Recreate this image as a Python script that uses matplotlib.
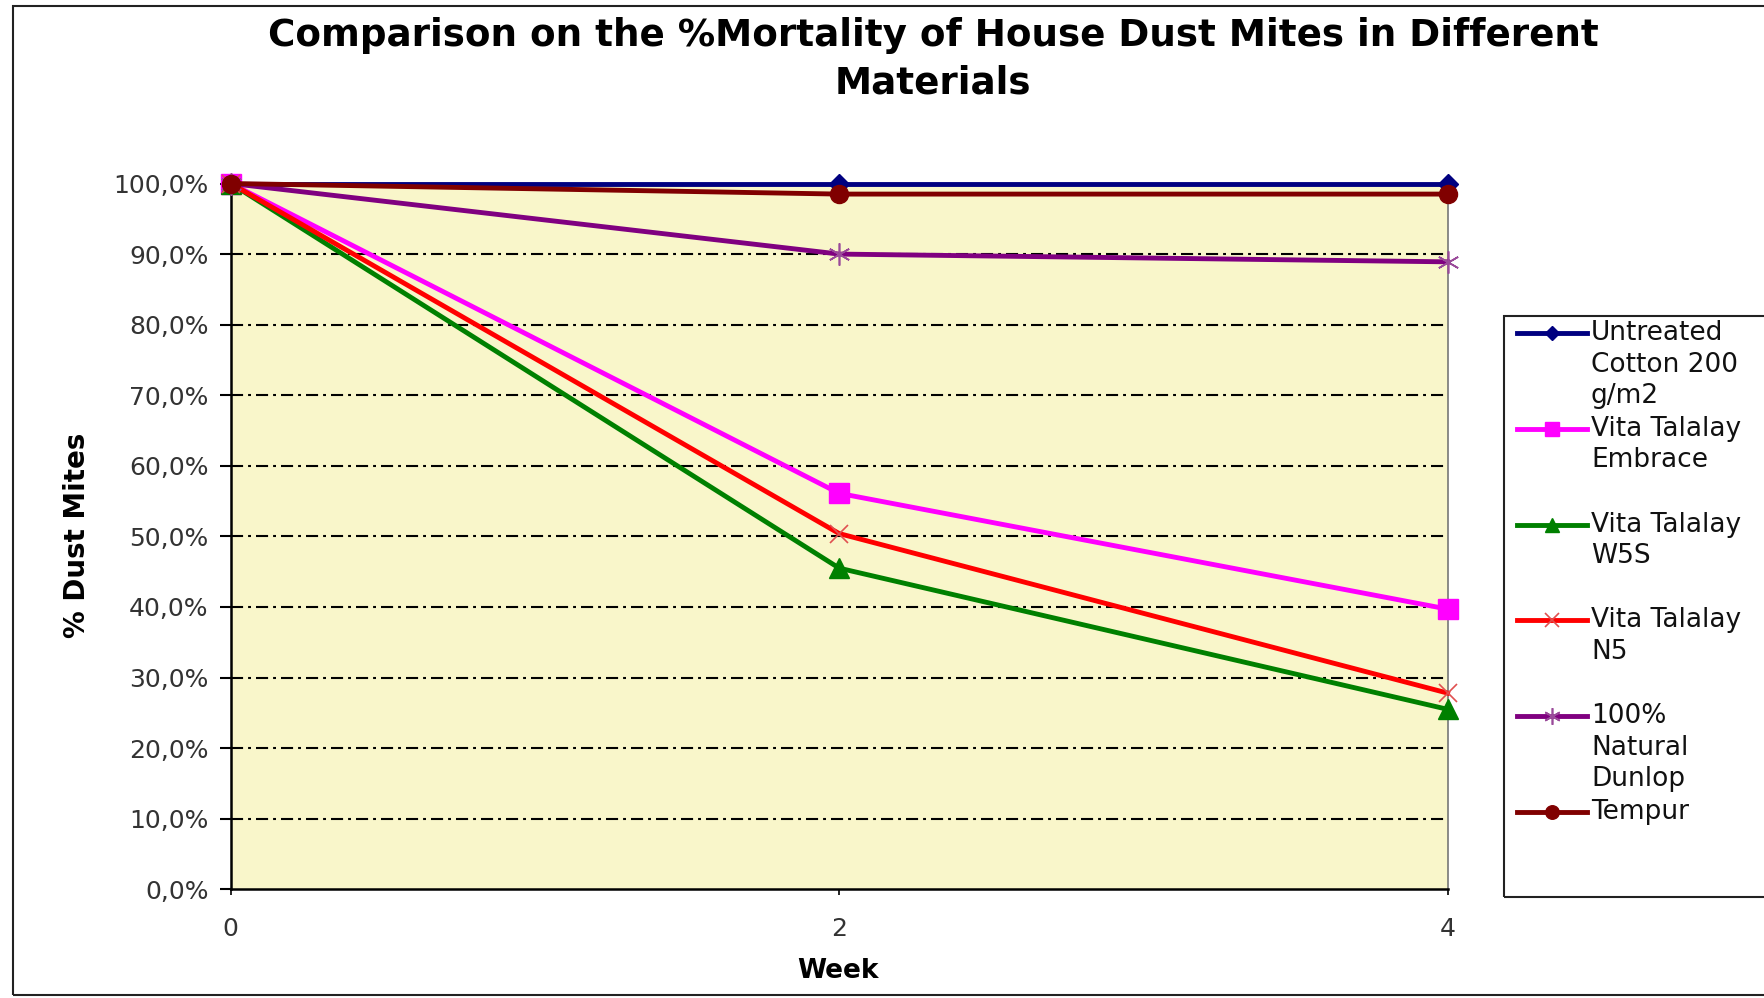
import matplotlib
matplotlib.use("Agg")
import matplotlib.pyplot as plt
from matplotlib.lines import Line2D
from matplotlib.patches import Rectangle
from matplotlib.ticker import FuncFormatter

plt.rcParams['font.family'] = ['DejaVu Sans']

weeks = [0, 2, 4]
series_names = [
    "Untreated\nCotton 200\ng/m2",
    "Vita Talalay\nEmbrace",
    "Vita Talalay\nW5S",
    "Vita Talalay\nN5",
    "100%\nNatural\nDunlop",
    "Tempur",
]
untreated = [100.0, 100.0, 100.0]
embrace = [100.0, 56.1, 39.7]
w5s = [100.0, 45.5, 25.5]
n5 = [100.0, 50.4, 27.8]
dunlop = [100.0, 90.0, 88.9]
tempur = [100.0, 98.5, 98.5]
all_values = [untreated, embrace, w5s, n5, dunlop, tempur]
y_ticks = [0, 10, 20, 30, 40, 50, 60, 70, 80, 90, 100]
x_ticks = [0, 2, 4]

styles = [
    dict(color='#000080', marker='D', ms=10, mfc='#000080', mec='#000080', mew=1),
    dict(color='#FF00FF', marker='s', ms=14, mfc='#FF00FF', mec='#FF00FF', mew=1),
    dict(color='#008000', marker='^', ms=14, mfc='#008000', mec='#008000', mew=1),
    dict(color='#FF0000', marker='x', ms=13, mfc='none', mec='#E05050', mew=1.2),
    dict(color='#800080', marker=(6, 2, 0), ms=16, mfc='none', mec='#9A4A9A', mew=1.2),
    dict(color='#800000', marker='o', ms=13, mfc='#800000', mec='#800000', mew=1),
]

W, H = 1765, 998
fig = plt.figure(figsize=(W / 100, H / 100), dpi=100)
fig.patch.set_facecolor('white')

# chart border
fig.add_artist(Rectangle((13 / W, 1 - 995 / H), (W + 10) / W, (995 - 6) / H,
                         transform=fig.transFigure, fill=False,
                         edgecolor='#222222', lw=1.5))

x0, x1 = 230.8, 1447.6
y_top, y_bot = 183.5, 889.3
ax = fig.add_axes([x0 / W, 1 - y_bot / H, (x1 - x0) / W, (y_bot - y_top) / H])
ax.set_facecolor('#F9F6CA')
ax.set_xlim(0, 4)
ax.set_ylim(0, 100)

for yv in y_ticks[1:-1]:
    ax.axhline(yv, color='black', lw=1.5, dashes=(5.8, 2.4, 1.4, 2.4), zorder=1)

for vals, st in zip(all_values, styles):
    ax.plot(weeks, vals, lw=3.5, zorder=3, clip_on=False, **st)

ax.set_yticks(y_ticks)
ax.set_xticks(x_ticks)
ax.yaxis.set_major_formatter(FuncFormatter(lambda v, p: f"{v:.1f}%".replace('.', ',')))
ax.tick_params(axis='y', direction='out', length=8, width=1.5, pad=8,
               labelsize=18, labelcolor='#333333')
ax.tick_params(axis='x', direction='out', length=4, width=1.2, pad=16,
               labelsize=18, labelcolor='#333333')
ax.spines['top'].set_visible(False)
ax.spines['right'].set_color('#777777')
ax.spines['right'].set_linewidth(1.2)
ax.spines['left'].set_linewidth(1.8)
ax.spines['bottom'].set_linewidth(1.8)

fig.text(838 / W, 1 - 971 / H, "Week", ha='center', va='center',
         fontsize=19, fontweight='bold')
fig.text(77 / W, 1 - 535 / H, "% Dust Mites", ha='center', va='center',
         rotation=90, fontsize=20, fontweight='bold')
fig.text(933 / W, 1 - 36 / H, "Comparison on the %Mortality of House Dust Mites in Different",
         ha='center', va='center', fontsize=26.8, fontweight='bold')
fig.text(933 / W, 1 - 83 / H, "Materials",
         ha='center', va='center', fontsize=26.8, fontweight='bold')

# legend
fig.add_artist(Rectangle((1504 / W, 1 - 897 / H), 300 / W, (897 - 316) / H,
                         transform=fig.transFigure, fill=False,
                         edgecolor='#222222', lw=1.5))
y_first, step, line_h = 333, 95.8, 31.5
for i, (name, st) in enumerate(zip(series_names, styles)):
    yy = y_first + i * step
    fig.add_artist(Line2D([1517 / W, 1587 / W], [1 - yy / H, 1 - yy / H],
                          transform=fig.transFigure, lw=3.5, color=st['color']))
    mk = {k: v for k, v in st.items() if k != 'color'}
    mk['ms'] = st['ms'] * 0.75
    fig.add_artist(Line2D([1552 / W], [1 - yy / H], transform=fig.transFigure,
                          lw=0, **mk))
    for j, ln in enumerate(name.split("\n")):
        fig.text(1591 / W, 1 - (yy + j * line_h) / H, ln, ha='left', va='center',
                 fontsize=19, color='#111111')

fig.savefig("out.png", dpi=100, facecolor='white')
